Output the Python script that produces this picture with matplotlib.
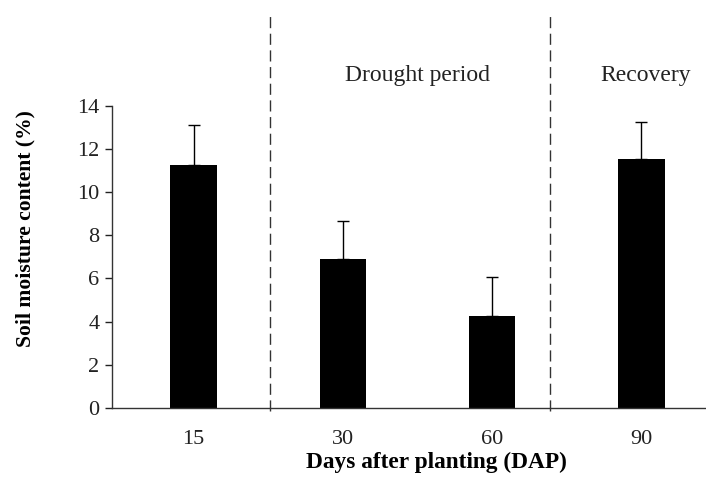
import matplotlib
matplotlib.use("Agg")
import matplotlib.pyplot as plt
import matplotlib.transforms as mtransforms

days = ["15", "30", "60", "90"]
moisture = [11.28, 6.9, 4.24, 11.53]
moisture_err = [1.82, 1.75, 1.81, 1.73]
period_labels = ["Drought period", "Recovery"]
divider_positions = [0.51, 2.39]
label_positions = [1.5, 3.03]

plt.rcParams['font.family'] = ['Liberation Serif', 'DejaVu Serif']

W, H = 706, 486
fig = plt.figure(figsize=(W / 100, H / 100), dpi=100)
ax = fig.add_axes([112 / W, (H - 407.7) / H, (705 - 112) / W, (407.7 - 106) / H])

x = list(range(len(days)))
ax.bar(x, moisture, width=0.31, color='black', zorder=2)
ax.errorbar(x, moisture, yerr=[[0] * len(days), moisture_err], fmt='none',
            ecolor='black', elinewidth=1, capsize=4.3, capthick=1, zorder=1)

ax.set_xlim(-0.546, 3.426)
ax.set_ylim(0, 14)
ax.set_yticks(range(0, 15, 2))
ax.set_xticks(x)
ax.set_xticklabels(days)
ax.tick_params(axis='y', direction='out', length=5, width=1, labelsize=16, pad=4, colors='#222222')
ax.tick_params(axis='x', length=0, labelsize=16, pad=16, colors='#222222')
for s in ['top', 'right']:
    ax.spines[s].set_visible(False)
for s in ['left', 'bottom']:
    ax.spines[s].set_linewidth(1)
    ax.spines[s].set_color('#333333')

ax.set_ylabel("Soil moisture content (%)", fontsize=15.6, fontweight='bold', va='center')
ax.yaxis.set_label_coords((25 - 112) / 593, (407.7 - 229) / 301.7)
ax.set_xlabel("Days after planting (DAP)", fontsize=16.8, fontweight='bold', va='center')
ax.xaxis.set_label_coords((436.5 - 112) / 593, (407.7 - 462) / 301.7)

trans = mtransforms.blended_transform_factory(ax.transData, fig.transFigure)
for xp in divider_positions:
    ax.plot([xp, xp], [(H - 411) / H, (H - 12) / H], transform=trans, color='#333333',
            lw=1, dashes=(8, 4), clip_on=False)

for lbl, xp in zip(period_labels, label_positions):
    ax.text(xp, (H - 75) / H, lbl, transform=trans, ha='center', va='center', fontsize=17,
            color='#222222')

fig.savefig("out.png", dpi=100)
